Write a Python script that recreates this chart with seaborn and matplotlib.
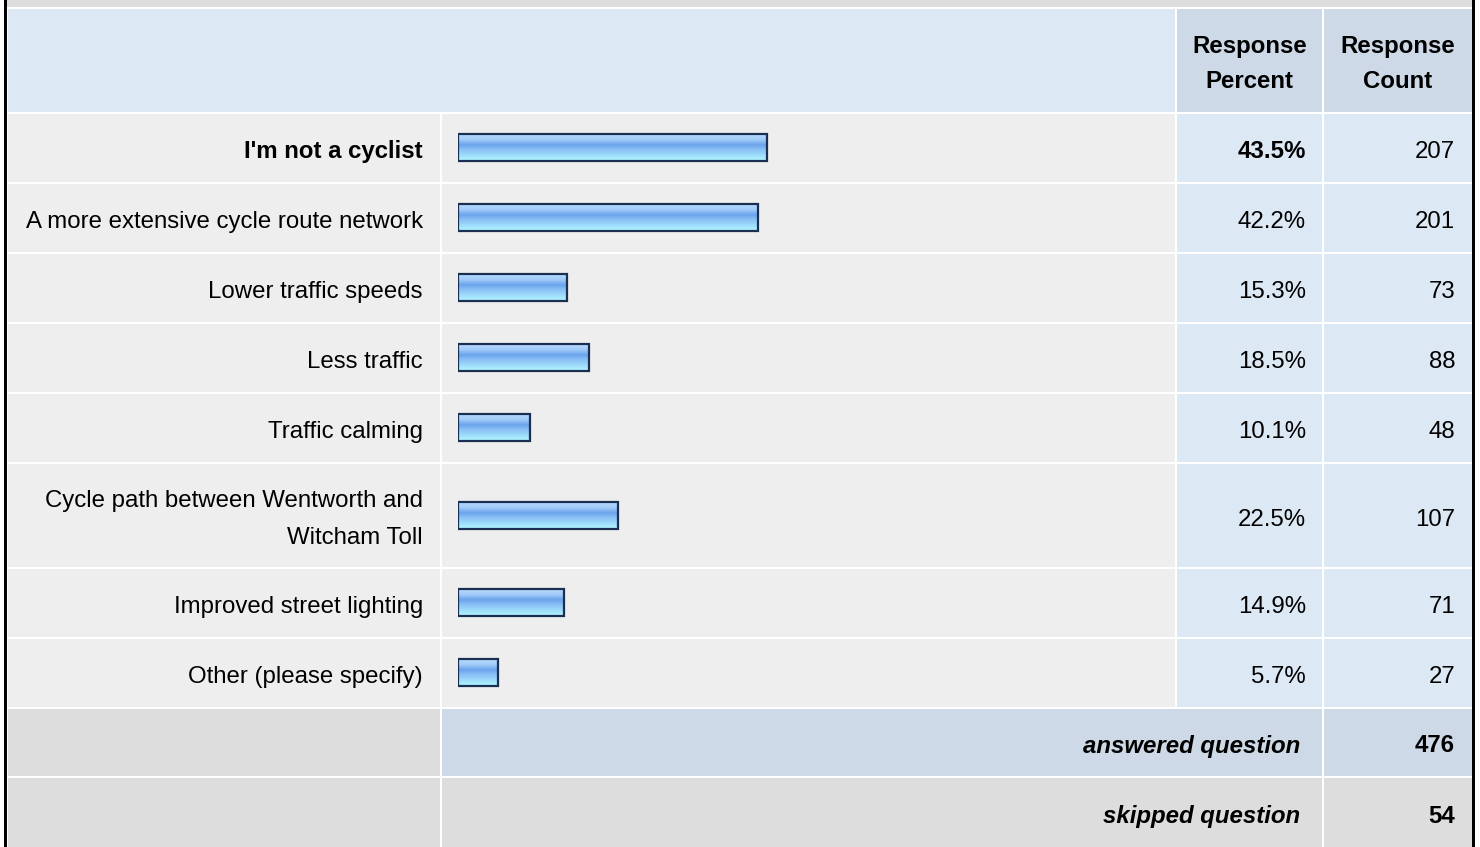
import matplotlib
matplotlib.use("Agg")
import matplotlib.pyplot as plt
import seaborn as sns
import numpy as np
import pandas as pd
from matplotlib.patches import Rectangle
from matplotlib.colors import LinearSegmentedColormap

# survey answers
labels = ["I'm not a cyclist", "A more extensive cycle route network", "Lower traffic speeds",
          "Less traffic", "Traffic calming", "Cycle path between Wentworth and\nWitcham Toll",
          "Improved street lighting", "Other (please specify)"]
percents = [43.5, 42.2, 15.3, 18.5, 10.1, 22.5, 14.9, 5.7]
counts = [207, 201, 73, 88, 48, 107, 71, 27]
answered = 476
skipped = 54

# table grid in pixels
col_edges = [7, 441, 1176, 1323, 1473]
row_edges = [8, 113, 183, 253, 323, 393, 463, 568, 638, 708, 777, 849]

LIGHT = "#eeeeee"
BLUE = "#dde8f5"
HEADBLUE = "#cdd9e6"
GRAY = "#dddddd"

sns.set_style("white")
plt.rcParams['font.family'] = ['Liberation Sans', 'DejaVu Sans']
plt.rcParams['text.color'] = 'black'
FS = 17.25

fig = plt.figure(figsize=(14.8, 8.47), dpi=100)
ax = fig.add_axes([0, 0, 1, 1])
ax.set_xlim(0, 1480)
ax.set_ylim(847, 0)
ax.axis("off")


def cell(x0, x1, y0, y1, color):
    ax.add_patch(Rectangle((x0 + 1, y0 + 1), x1 - x0 - 2, y1 - y0 - 2, facecolor=color, lw=0))


# top band and outer borders
ax.add_patch(Rectangle((7, 0), 1466, 7, facecolor=GRAY, lw=0))
ax.add_patch(Rectangle((4, 0), 3, 847, facecolor="black", lw=0))
ax.add_patch(Rectangle((1472, 0), 3, 847, facecolor="black", lw=0))

# header
cell(col_edges[0], col_edges[2], row_edges[0], row_edges[1], BLUE)
cell(col_edges[2], col_edges[3], row_edges[0], row_edges[1], HEADBLUE)
cell(col_edges[3], col_edges[4], row_edges[0], row_edges[1], HEADBLUE)
for cx, word in [((col_edges[2] + col_edges[3]) / 2, "Percent"), ((col_edges[3] + col_edges[4]) / 2, "Count")]:
    ax.text(cx, 53, "Response", ha="center", va="baseline", fontsize=FS, fontweight="bold")
    ax.text(cx, 88, word, ha="center", va="baseline", fontsize=FS, fontweight="bold")

centers = []
for i in range(len(labels)):
    y0, y1 = row_edges[i + 1], row_edges[i + 2]
    cy = (y0 + y1) / 2
    centers.append(cy)
    cell(col_edges[0], col_edges[1], y0, y1, LIGHT)
    cell(col_edges[1], col_edges[2], y0, y1, LIGHT)
    cell(col_edges[2], col_edges[3], y0, y1, BLUE)
    cell(col_edges[3], col_edges[4], y0, y1, BLUE)
    weight = "bold" if i == 0 else "normal"
    lines = labels[i].split("\n")
    if len(lines) == 2:
        ax.text(423, cy - 8, lines[0], ha="right", va="baseline", fontsize=FS)
        ax.text(423, cy + 28, lines[1], ha="right", va="baseline", fontsize=FS)
    else:
        ax.text(423, cy + 10, lines[0], ha="right", va="baseline", fontsize=FS, fontweight=weight)
    ax.text(1306, cy + 10, f"{percents[i]:.1f}%", ha="right", va="baseline", fontsize=FS, fontweight=weight)
    ax.text(1455, cy + 10, str(counts[i]), ha="right", va="baseline", fontsize=FS)

# summary rows
ya0, ya1 = row_edges[9], row_edges[10]
cell(col_edges[0], col_edges[1], ya0, ya1, GRAY)
cell(col_edges[1], col_edges[3], ya0, ya1, HEADBLUE)
cell(col_edges[3], col_edges[4], ya0, ya1, HEADBLUE)
ax.text(1300, (ya0 + ya1) / 2 + 10, "answered question", ha="right", va="baseline",
        fontsize=FS, fontweight="bold", style="italic")
ax.text(1455, (ya0 + ya1) / 2 + 10, str(answered), ha="right", va="baseline", fontsize=FS, fontweight="bold")

ys0, ys1 = row_edges[10], row_edges[11]
cell(col_edges[0], col_edges[1], ys0, ys1, GRAY)
cell(col_edges[1], col_edges[3], ys0, ys1, GRAY)
cell(col_edges[3], col_edges[4], ys0, ys1, GRAY)
ax.text(1300, (ys0 + 847) / 2 + 11, "skipped question", ha="right", va="baseline",
        fontsize=FS, fontweight="bold", style="italic")
ax.text(1455, (ys0 + 847) / 2 + 11, str(skipped), ha="right", va="baseline", fontsize=FS, fontweight="bold")

# bars: own axes, x in percent, y in the same pixel rows
bx = fig.add_axes([458 / 1480, 0, 710 / 1480, 1])
bx.patch.set_alpha(0)
df = pd.DataFrame({"pos": centers, "pct": percents})
sns.barplot(data=df, x="pct", y="pos", orient="h", native_scale=True, width=27 / 70,
            color="#7ab2f0", edgecolor="#1a2f52", linewidth=1.6, ax=bx)

grad = LinearSegmentedColormap.from_list("bar", [(0, "#b8dcfe"), (0.2, "#a2cbf9"), (0.4, "#6aa3ec"),
                                                 (0.55, "#86bcf4"), (1, "#b4f8ff")])
g = np.linspace(0, 1, 64).reshape(-1, 1)
for p in list(bx.patches):
    x0, y0 = p.get_x(), p.get_y()
    w, h = p.get_width(), p.get_height()
    top, bot = min(y0, y0 + h), max(y0, y0 + h)
    bx.imshow(g, cmap=grad, aspect="auto", extent=[x0, x0 + w, bot, top], zorder=1)
    p.set_facecolor("none")
    p.set_zorder(2)

bx.set_xlim(0, 100)
bx.set_ylim(847, 0)
bx.axis("off")

plt.savefig("out.png", dpi=100)
plt.close()
